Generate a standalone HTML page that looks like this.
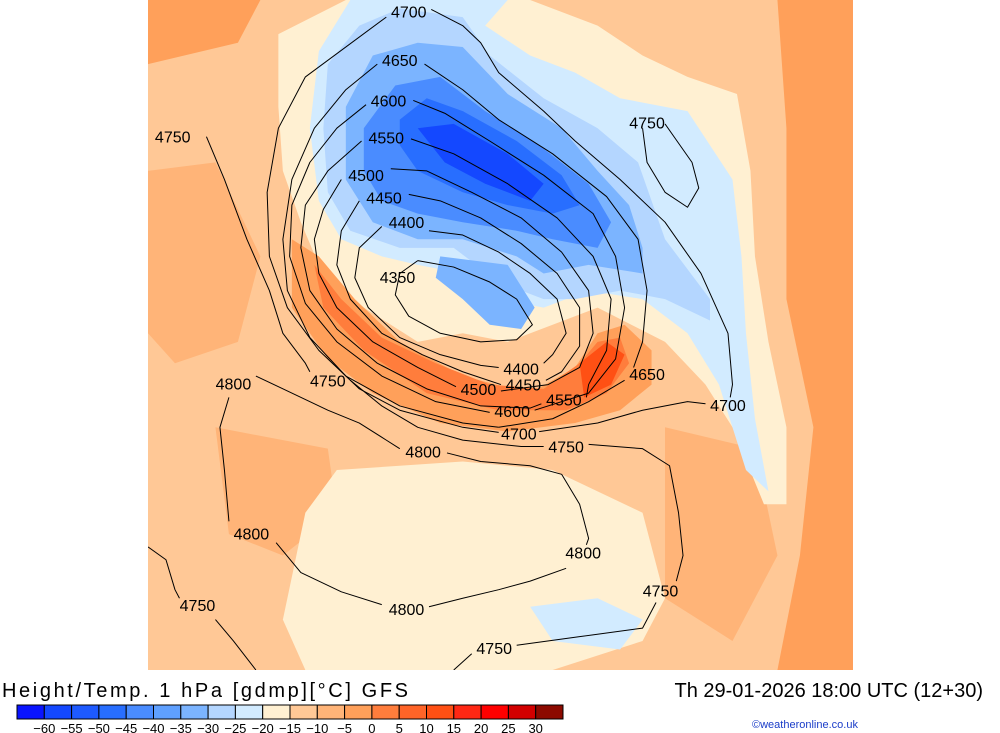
<!DOCTYPE html>
<html><head><meta charset="utf-8"><style>
body{margin:0;background:#fff;width:1000px;height:733px;overflow:hidden;font-family:"Liberation Sans",sans-serif}
svg{position:absolute;left:0;top:0}
</style></head><body>
<svg id="s" width="1000" height="733">
<defs><clipPath id="mc"><rect x="148" y="0" width="705" height="670"/></clipPath></defs>
<rect x="148" y="0" width="705" height="670" fill="#ffc896"/>
<g clip-path="url(#mc)">
<g id="map" transform="translate(148,0) scale(0.4496,0.4273)"></g>
</g>
<g id="labels"></g>
<text x="2" y="697" font-size="20" fill="#000" textLength="406">Height/Temp. 1 hPa [gdmp][°C] GFS</text>
<text x="983" y="697" font-size="20" text-anchor="end" fill="#000">Th 29-01-2026 18:00 UTC (12+30)</text>
<text x="752" y="728" font-size="11" fill="#1a3cc8">©weatheronline.co.uk</text>
<g id="cbar"></g>
</svg>
<script>
const NS="http://www.w3.org/2000/svg";
const cbColors=["#0a14ff","#1448ff","#1e5aff","#286eff","#4a8cff","#5fa0ff","#7bb4ff","#b4d6ff","#d2ebff","#fff0d2","#ffc896","#ffb478","#ffa05a","#ff7d3c","#ff6428","#ff5014","#ff2814","#ff0000","#d20000","#8c0a00"];
const cbTicks=[-60,-55,-50,-45,-40,-35,-30,-25,-20,-15,-10,-5,0,5,10,15,20,25,30];
const regions=[
["#ffa05a","1400,0 1568,0 1568,1568 1400,1568 1450,1300 1480,1000 1420,700 1420,300"],
["#ffa05a","0,0 250,0 200,100 0,150"],
["#ffb478","0,400 150,380 250,600 200,800 60,850 0,780"],
["#ffb478","150,1000 400,1050 420,1200 300,1300 180,1250"],
["#ffb478","1150,1000 1350,1050 1400,1300 1300,1500 1150,1400"],
["#fff0d2","290,80 440,0 850,0 1000,60 1100,130 1200,180 1310,220 1340,400 1350,600 1380,800 1420,1000 1420,1180 1370,1180 1300,1000 1240,900 1150,800 1000,720 900,760 800,800 700,780 600,800 450,700 380,620 340,520 300,400 290,250"],
["#fff0d2","420,1100 700,1080 900,1100 1100,1200 1150,1400 1100,1500 900,1568 350,1568 300,1450 350,1200"],
["#d2ebff","380,120 450,0 800,0 750,60 850,130 950,170 1050,230 1200,260 1300,420 1320,600 1330,780 1350,980 1380,1150 1330,1100 1270,900 1200,780 1100,700 980,680 880,720 780,700 700,640 600,620 520,600 430,560 380,470 360,300"],
["#d2ebff","850,1420 1000,1400 1100,1450 1050,1520 900,1500"],
["#b4d6ff","400,150 470,60 560,20 700,40 760,130 880,230 1000,300 1090,380 1150,560 1250,700 1250,750 1150,700 1050,680 950,700 880,700 780,660 680,580 560,580 450,540 400,450 390,300"],
["#7bb4ff","440,250 500,130 600,100 700,110 800,220 920,300 1000,400 1070,480 1100,580 1100,640 980,620 880,640 820,600 700,560 600,560 500,520 440,420"],
["#7bb4ff","650,600 800,620 860,720 830,770 760,760 700,700 640,650"],
["#4a8cff","480,300 550,200 650,180 750,260 870,340 980,430 1030,520 1000,580 900,560 820,540 700,520 600,500 520,470 480,400"],
["#286eff","560,280 620,230 700,260 820,330 920,410 960,480 900,500 800,480 700,450 600,400 560,340"],
["#1448ff","600,300 680,290 800,360 880,430 850,470 750,430 660,380"],
["#ffa05a","320,560 380,600 460,700 560,800 700,880 850,920 950,860 1000,780 1060,760 1120,820 1120,900 1050,960 950,990 800,1010 650,990 500,920 400,840 320,720"],
["#ff7d3c","370,620 430,700 520,790 640,850 760,900 880,910 960,850 1000,800 1050,790 1070,850 1020,920 930,960 780,960 620,920 480,820 390,720"],
["#ff5014","960,850 1020,800 1060,830 1030,900 970,930"]
];
const contours=[
"600,610 680,625 760,660 820,700 855,760 820,795 740,800 650,780 580,740 550,690 560,640 600,610",
"625,540 700,550 780,590 850,640 910,700 930,780 900,830 880,850",
"520,530 470,580 460,650 490,720 560,790 650,830 740,855 780,860",
"580,455 650,470 740,510 830,570 910,640 960,720 960,810 920,870 885,890",
"470,470 430,540 420,620 450,700 520,780 610,830 700,870 785,900",
"540,395 620,400 720,450 830,510 920,590 980,680 990,780 960,860 890,900 785,915",
"430,420 390,490 370,560 380,640 420,720 500,800 600,860 685,905",
"585,325 680,360 800,430 910,510 990,600 1030,700 1020,820 980,900 975,930",
"475,330 400,400 350,480 340,580 360,680 420,770 510,850 620,910 740,950 850,955 875,945",
"590,235 660,265 760,330 880,410 990,500 1040,600 1060,720 1040,840 980,920 860,960",
"485,245 420,300 360,380 320,480 315,600 350,710 420,800 520,880 640,940 760,965",
"615,150 700,210 780,280 900,360 1020,460 1090,560 1110,680 1100,800 1080,860",
"1060,890 980,940 900,980 780,1000",
"510,150 440,210 370,300 320,420 300,560 310,680 360,790 440,880 560,950 700,990 780,1000",
"530,40 350,180 290,300 265,450 270,600 310,720 380,820 470,910 560,960 700,1000 780,1012",
"870,1010 1000,990 1100,960 1200,940 1240,945",
"630,22 700,60 740,100 780,170 880,260 950,330 1050,420 1150,520 1230,640 1290,780 1300,900 1295,930",
"130,320 170,420 220,560 270,680 300,780 350,850 360,870",
"450,890 520,950 600,1000 700,1030 830,1045 880,1045",
"980,1040 1100,1050 1160,1090 1180,1200 1190,1300 1175,1360",
"1130,1410 1100,1470 960,1490 820,1510",
"720,1530 680,1568",
"1100,300 1110,380 1150,450 1200,485 1225,440 1210,380 1170,320 1150,290",
"240,880 300,910 400,960 470,990 530,1030 560,1050",
"665,1060 740,1080 850,1090 920,1110 960,1180 980,1260 975,1275",
"930,1330 850,1360 780,1380 700,1400 625,1420",
"520,1415 430,1385 340,1340 285,1270",
"180,1220 170,1100 160,1000 180,930",
"0,1280 40,1310 60,1380 70,1400",
"150,1450 190,1500 240,1568"
];
const labelText=["4700","4650","4600","4550","4500","4450","4400","4350","4750","4750","4400","4450","4500","4550","4600","4650","4700","4750","4800","4750","4800","4800","4800","4800","4750","4750","4750","4700"];
const labelPos=[[580,27],[560,140],[535,235],[530,322],[485,410],[525,462],[575,520],[555,648],[55,320],[1110,287],[830,862],[835,900],[735,910],[925,935],[810,962],[1110,875],[825,1015],[400,890],[190,897],[930,1045],[612,1057],[968,1293],[575,1425],[230,1248],[1140,1382],[770,1517],[110,1416],[1290,948]];
const map=document.getElementById('map');
regions.forEach(r=>{const p=document.createElementNS(NS,'polygon');p.setAttribute('points',r[1]);p.setAttribute('fill',r[0]);


map.appendChild(p);});
contours.forEach(c=>{const p=document.createElementNS(NS,'polyline');p.setAttribute('points',c);p.setAttribute('fill','none');p.setAttribute('stroke','#000');p.setAttribute('stroke-width','1');p.setAttribute('vector-effect','non-scaling-stroke');p.setAttribute('stroke-linejoin','round');


map.appendChild(p);});
const lg=document.getElementById('labels');
labelText.forEach((t,i)=>{const e=document.createElementNS(NS,'text');e.setAttribute('x',148+labelPos[i][0]*0.4496);e.setAttribute('y',labelPos[i][1]*0.4273+6);e.setAttribute('text-anchor','middle');e.setAttribute('font-size','16');e.textContent=t;


lg.appendChild(e);});
const cb=document.getElementById('cbar');
const x0=17,x1=563,w=(x1-x0)/cbColors.length;
cbColors.forEach((c,i)=>{const r=document.createElementNS(NS,'rect');r.setAttribute('x',x0+i*w);r.setAttribute('y',705);r.setAttribute('width',w);r.setAttribute('height',14);r.setAttribute('fill',c);r.setAttribute('stroke','#000');r.setAttribute('stroke-width','1');


cb.appendChild(r);});
cbTicks.forEach((t,i)=>{const e=document.createElementNS(NS,'text');e.setAttribute('x',x0+(i+1)*w);e.setAttribute('y',733);e.setAttribute('text-anchor','middle');e.setAttribute('font-size','13');e.textContent=t<0?'\u2212'+(-t):String(t);


cb.appendChild(e);});
</script>
</body></html>
